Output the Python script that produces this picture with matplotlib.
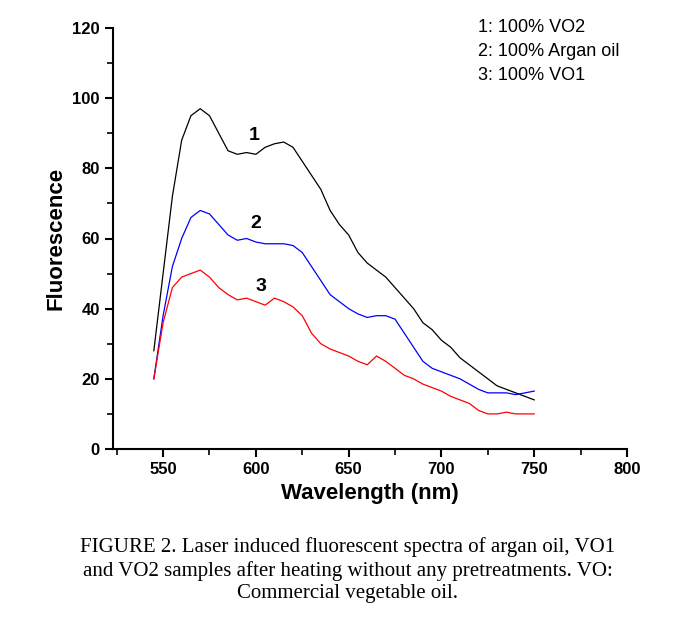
import numpy as np
import matplotlib
matplotlib.use("Agg")
import matplotlib.pyplot as plt
plt.rcParams["font.family"] = ["Liberation Sans", "DejaVu Sans"]

wl = list(range(545, 751, 5))
vo2 = [28,50,72,88,95,97,95,90,85,84,84.5,84,86,87,87.5,86,82,78,74,68,64,61,56,53,51,49,46,43,40,36,34,31,29,26,24,22,20,18,17,16,15,14]
argan = [20,38,52,60,66,68,67,64,61,59.5,60,59,58.5,58.5,58.5,58,56,52,48,44,42,40,38.5,37.5,38,38,37,33,29,25,23,22,21,20,18.5,17,16,16,16,15.5,16,16.5]
vo1 = [20,36,46,49,50,51,49,46,44,42.5,43,42,41,43,42,40.5,38,33,30,28.5,27.5,26.5,25,24,26.5,25,23,21,20,18.5,17.5,16.5,15,14,13,11,10,10,10.5,10,10,10]
legend_lines = ["1: 100% VO2", "2: 100% Argan oil", "3: 100% VO1"]
caption = ("FIGURE 2. Laser induced fluorescent spectra of argan oil, VO1\n"
           "and VO2 samples after heating without any pretreatments. VO:\n"
           "Commercial vegetable oil.")

fig = plt.figure(figsize=(6.95, 6.36), dpi=100)
ax = fig.add_axes([113/695, 1-449/636, (627-113)/695, (449-28)/636])
ax.plot(wl, vo2, color="black", lw=0.9)
ax.plot(wl, argan, color="blue", lw=0.9)
ax.plot(wl, vo1, color="red", lw=0.9)
ax.set_xlim(523, 800)
ax.set_ylim(0, 120)
ax.set_xticks(range(550, 801, 50))
ax.set_xticks(range(525, 801, 25), minor=True)
ax.set_yticks(range(0, 121, 20))
ax.set_yticks(range(10, 121, 20), minor=True)
for s in ["top", "right"]:
    ax.spines[s].set_visible(False)
for s in ["left", "bottom"]:
    ax.spines[s].set_linewidth(1.5)
ax.tick_params(which="major", direction="out", length=6, width=1.5, labelsize=12)
ax.tick_params(which="minor", direction="out", length=4, width=1.2)
for lab in ax.get_xticklabels() + ax.get_yticklabels():
    lab.set_fontweight("bold")
ax.set_xlabel("Wavelength (nm)", fontsize=16, fontweight="bold")
ax.set_ylabel("Fluorescence", fontsize=16, fontweight="bold")
ax.text(596, 88, "1", fontsize=14, fontweight="bold")
ax.text(597, 63, "2", fontsize=14, fontweight="bold")
ax.text(600, 45, "3", fontsize=14, fontweight="bold")
for i, t in enumerate(legend_lines):
    fig.text(478/695, 1-(27+i*24)/636, t, fontsize=13, va="center")
fig.text(0.5, 1-570/636, caption, ha="center", va="center", fontsize=15,
         family="Liberation Serif", linespacing=1.25)
fig.savefig("out.png")
